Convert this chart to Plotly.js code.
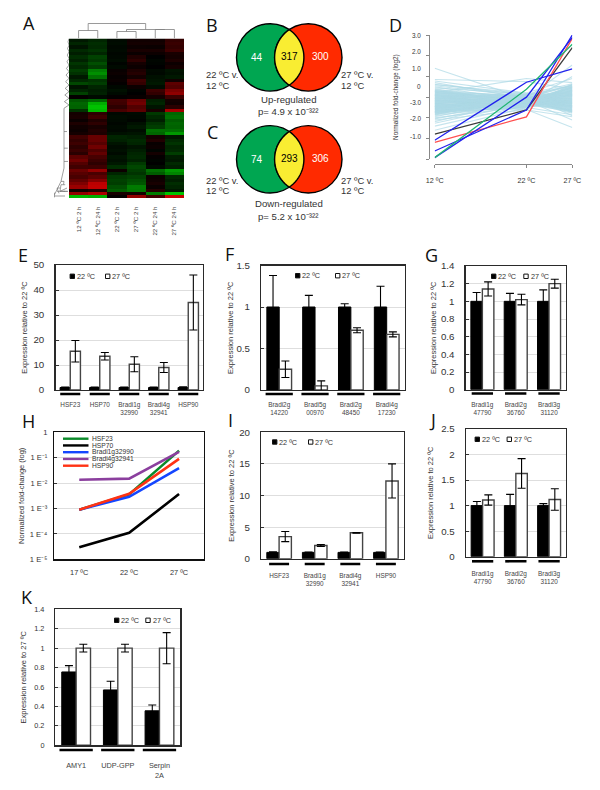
<!DOCTYPE html>
<html><head><meta charset="utf-8">
<script src="https://cdn.plot.ly/plotly-3.0.1.min.js"></script>
<style>html,body{margin:0;padding:0;background:#fff}</style></head>
<body><div id="chart" style="width:600px;height:790px"></div>
<script>
// ---------- data: panel A heat map (rows top to bottom, six samples) ----------
const heatSamples = ['12 ºC 2 h','12 ºC 24 h','22 ºC 2 h','27 ºC 2 h','22 ºC 24 h','27 ºC 24 h'];
const heatRows = [
[-.12,-.18,-.05,.08,.08,.25],[-.18,-.22,-.06,.1,.1,.28],[-.1,-.2,-.04,.06,.05,.25],[-.2,-.25,-.05,.12,.12,.3],[-.14,-.18,-.03,.05,.06,.12],
[-.22,-.32,-.04,.15,0,.1],[-.16,-.28,-.06,.22,-.03,.14],[-.26,-.38,-.02,.1,-.02,.06],[-.2,-.3,-.05,.06,0,.1],
[-.3,-.62,.04,.14,-.05,-.1],[-.24,-.7,.06,.18,-.04,-.08],[-.12,-.55,.03,.1,-.08,-.12],
[-.2,-.25,.05,.3,-.1,.08],[-.35,-.3,.02,.25,-.12,.45],[-.1,-.18,-.04,.06,-.06,.4],
[-.18,-.14,-.08,-.02,.3,.62],[-.32,-.16,-.05,0,.24,.7],[.02,-.05,.02,.04,.1,.3],
[-.42,-.5,.32,.5,-.15,.1],[-.5,-.85,.3,.55,-.18,.08],[-.48,-.95,.22,.4,-.1,.2],[-.25,-.9,.35,.45,.12,.8],
[.1,.22,-.04,-.05,-.28,-.5],[.12,.3,-.06,-.04,-.2,-.55],[.05,.15,-.05,-.02,-.15,-.45],[.14,.22,-.03,-.08,-.25,-.5],[.08,.12,-.05,-.12,-.3,-.48],[.06,.16,-.04,-.06,-.55,-.55],[.1,.14,-.08,-.1,-.5,-.75],
[.32,.5,-.18,-.15,.1,-.12],[.25,.5,-.16,-.2,.16,-.2],[.3,.42,-.1,-.18,.04,-.25],[.22,.55,-.06,-.1,.06,-.18],[.28,.38,-.08,-.14,-.02,-.2],[.2,.48,-.05,-.18,.1,-.3],
[.45,.35,-.1,-.2,.02,-.14],[.55,.28,-.08,-.16,-.02,-.12],[.4,.22,-.12,-.28,0,-.2],[.32,.3,-.22,-.35,-.05,-.15],
[.52,.72,.06,-.3,-.55,-.75],[.42,.36,-.18,-.25,-.45,-.65],[.36,.45,-.28,-.32,.06,-.2],[.48,.65,-.32,-.38,.08,-.15],
[.62,.92,-.3,-.42,.12,-.22],[.75,.95,-.38,-.6,.05,-.18],[.08,.15,-.45,-.58,.18,-.12],
[.72,.85,.12,.1,-.62,-.95],[-.9,-.85,.02,.72,.32,.95]];
const dendroTopX = [0,0,1,1,null,2,2,3,3,null,4,4,5,5,null,2.5,2.5,4.5,4.5,null,.5,.5,3.5,3.5];
const dendroTopH = [0,8,8,0,null,0,7,7,0,null,0,9,9,0,null,7,9,9,9,null,8,15,15,9];
const dendroLeftD = [0,1,0,1.4,0,1.7,0,2,0,2.5,0,3,0,3.4,0,3.8,0,4.2,0,4.6,0,5,null,5,5,null,5,2,null,5,1.2,null,5,1,null,5,8,null,8,5,5.5,3.8,null,5.5,1.5,null,8,14.5,null,5.5,8,9,2,null,9,1,null,14.5,14.5,null,9,12,10,null,12,4,null,14.5,4];
const dendroLeftR = [0,1,2,3,4,5,6,7,8,9,10,11,12,13,14,15,16,17,18,19,20,21,null,21,39,null,28,28,null,33,33,null,37,37,null,39,43,null,43,43,44,44,null,46,46,null,43,47,null,44,44,46,45,null,46,46,null,46.4,47.8,null,45,45,46.6,null,46,46,null,47.4,47.4];

// ---------- data: panels B, C Venn counts ----------
const vennUp = [44, 317, 300];
const vennDown = [74, 293, 306];

// ---------- data: panel D ----------
const dTemps = [12, 22, 27];
const dTickLabels = ['3.0','2.0','1.0','0','-3.0','-2.0','-1.0'];
const coolAt12 = [1.4,.85,.78,.7,.62,.55,.5,.45,.4,.36,.3,.27,.22,.18,.14,.1,.08,.05,.02,-.02,-.05,-.08,-.1,-.13,-.16,-.18,-.2,-.23,-.26,-.28,-.3,-.33,-.36,-.38,-.4,-.43,-.46,-.48,-.5,-.53,-.56,-.58,-.6,-.63,-.66,-.68,-.7,-.73,-.76,-.78,-.82,-.86,-.9,-.95,-1,-1.05,-1.1,-1.18,-1.26,-1.4,-1.6,.2,-.3,.6,-.15,.32,-.55,-.72,.12,-.42,
 .28,.16,.06,-.04,-.12,-.22,-.32,-.44,-.52,-.64,-.74,.24,.1,-.01,-.09,-.19,-.29,-.37,-.47,-.57,-.69,-.8,.34,.2,.03,-.07,-.17,-.27,-.39,-.49,-.61,-.71,-.84,.26,.11,-.06,-.21,-.34,-.45,-.59];
const coolAt22 = [-.1,.75,.2,-.05,.1,.02,-.2,.15,-.3,0,.05,-.15,-.1,.12,-.25,.08,-.4,-.05,.1,-.18,-.3,.06,-.12,-.45,-.22,.02,-.08,-.35,-.02,-.28,-.16,.14,-.5,-.1,-.04,-.32,-.2,.05,-.42,-.14,-.26,-.06,-.55,.03,-.38,-.12,-.24,-.48,-.02,-.3,-.18,.1,-.34,-.08,-.44,-.22,-.6,-.1,-.3,-.4,-.5,.9,-.62,.18,-.36,-.2,-.46,-.52,-.28,-.16,
 -.22,-.06,-.34,.04,-.14,-.26,-.02,-.42,-.1,-.3,-.18,-.38,.01,-.24,-.12,-.46,-.08,-.2,-.32,-.04,-.28,-.16,-.36,-.1,-.44,.08,-.22,-.13,-.27,-.05,-.33,-.19,-.4,.02,-.15,-.29,-.07,-.35,-.11,-.25];
const coolAt27 = [-.3,.4,.9,1.55,.55,.1,-.2,.65,-.4,.3,-.1,.45,-.55,.2,1,-.3,.05,.6,-.7,-.15,.35,-.45,.12,-.05,.5,-.25,-.6,.25,-.35,.02,.42,-.5,.15,-.72,-.08,.32,-.42,.58,-.2,-.65,.08,-.3,.22,-.52,-.12,.38,-.78,0,-.38,.48,-.22,-.9,.18,-.48,.62,-.05,-1.47,.28,-.6,-.28,-.85,.7,-.95,.05,-.68,.52,-.16,.35,-.42,-1.1,
 .44,-.34,.14,-.58,.26,-.18,.54,-.44,.06,-.62,.34,-.26,.2,-.7,.46,-.1,-.52,.3,-.02,-.4,.16,-.66,.4,-.22,.1,-.48,.24,-.74,.5,-.14,.36,-.56,-.06,.12,-.36,.28,-.46,.18,-.64,.04];
const dHighlights = [
  {color:'#3b3b3b', values:[-1.79,-.62,2.39]},
  {color:'#ff4f4f', values:[-2.18,-.95,2.84]},
  {color:'#2222ee', values:[-2.08,.72,1.36]},
  {color:'#2222ee', values:[-2.6,-.62,3.0]},
  {color:'#2222ee', values:[-2.92,0,2.89]},
  {color:'#22b573', values:[-2.92,.38,2.55]}];

// ---------- data: bar panels ----------
const eCats = ['HSF23','HSP70','Bradi1g<br>32990','Bradi4g<br>32941','HSP90'];
const eBlack = [1,1,1,1,1];
const eBlackErr = [.2,.2,.2,.2,.3];
const eWhite = [15.5,13.5,10.3,9,35];
const eWhiteErr = [4.3,1.5,3,2,11];

const fCats = ['Bradi2g<br>14220','Bradi5g<br>00970','Bradi2g<br>48450','Bradi4g<br>17230'];
const fBlack = [1,1,1,1];
const fBlackErr = [.38,.14,.04,.25];
const fWhite = [.25,.05,.72,.67];
const fWhiteErr = [.1,.06,.03,.03];

const gCats = ['Bradi1g<br>47790','Bradi2g<br>36760','Bradi3g<br>31120'];
const gBlack = [1,1,1];
const gBlackErr = [.1,.09,.13];
const gWhite = [1.14,1.02,1.2];
const gWhiteErr = [.08,.06,.05];

const hTemps = ['17 ºC','22 ºC','27 ºC'];
const hTickVals = [1e-5,1e-4,1e-3,1e-2,1e-1,1];
const hTickText = ['1 E⁻⁵','1 E⁻⁴','1 E⁻³','1 E⁻²','1 E⁻¹','1'];
const hSeries = [
  {name:'HSF23', color:'#0b8a2a', values:[9e-4,3.6e-3,1.9e-1]},
  {name:'HSP70', color:'#000000', values:[3e-5,1.1e-4,3.7e-3]},
  {name:'Bradi1g32990', color:'#1446ff', values:[9e-4,2.9e-3,3.9e-2]},
  {name:'Bradi4g32941', color:'#8b3f9e', values:[1.35e-2,1.5e-2,1.7e-1]},
  {name:'HSP90', color:'#ff3214', values:[9e-4,3.8e-3,9e-2]}];

const iCats = ['HSF23','Bradi1g<br>32990','Bradi4g<br>32941','HSP90'];
const iBlack = [1,1,1,1];
const iBlackErr = [.08,.06,.06,.06];
const iWhite = [3.5,2.1,4.1,12.3];
const iWhiteErr = [.8,.15,.05,2.7];

const jCats = ['Bradi1g<br>47790','Bradi2g<br>36760','Bradi3g<br>31120'];
const jBlack = [1,1,1];
const jBlackErr = [.08,.22,.04];
const jWhite = [1.11,1.63,1.12];
const jWhiteErr = [.1,.29,.21];

const kCats = ['AMY1','UDP-GPP','Serpin<br>2A'];
const kBlack = [.755,.57,.355];
const kBlackErr = [.065,.09,.06];
const kWhite = [1,1,1];
const kWhiteErr = [.04,.04,.16];

// ---------- helpers ----------
const W = 600, H = 790;
const X = p => p / W, Y = p => 1 - p / H;
const SANS = '"Liberation Sans", Arial, sans-serif';
const INK = '#333';
const traces = [], shapes = [], annotations = [];
const layout = {width:W, height:H, margin:{l:0,r:0,t:0,b:0}, paper_bgcolor:'#fff', plot_bgcolor:'rgba(0,0,0,0)',
  showlegend:false, font:{family:SANS, color:INK}, shapes, annotations};
let axisN = 0;
function axes(l, r, t, b, xa, ya) {
  axisN++;
  const sfx = axisN === 1 ? '' : String(axisN);
  layout['xaxis'+sfx] = Object.assign({domain:[X(l),X(r)], anchor:'y'+sfx, fixedrange:true}, xa);
  layout['yaxis'+sfx] = Object.assign({domain:[Y(b),Y(t)], anchor:'x'+sfx, fixedrange:true}, ya);
  return {x:'x'+sfx, y:'y'+sfx};
}
function text(x, y, str, size, opts) {
  annotations.push(Object.assign({xref:'paper', yref:'paper', x:X(x), y:Y(y), text:str, showarrow:false,
    font:{size, family:SANS, color:INK}, xanchor:'center', yanchor:'middle', borderpad:0, align:'center'}, opts||{}));
}
function letter(s, x, y) { text(x, y, s, 18, {font:{size:18, family:'"Open Sans", sans-serif', color:'#111'}}); }
function legendSquare(x, y, fill) {
  shapes.push({type:'rect', xref:'paper', yref:'paper', x0:X(x-2.2), x1:X(x+2.2), y0:Y(y+2.2), y1:Y(y-2.2),
    fillcolor:fill, line:{color:'#111', width:1}});
}
function barPanel(p) {
  const a = axes(p.l, p.r, p.t, p.b,
    {type:'category', showline:true, mirror:true, linecolor:'#2a2a2a', linewidth:1.4, showgrid:false, ticks:'outside',
     ticklen:p.labelGap, tickcolor:'rgba(0,0,0,0)', tickangle:0, tickfont:{size:p.catFont||6.4, color:'#444'}},
    {range:[0,p.ymax], tick0:0, dtick:p.dtick, showline:true, mirror:true, linecolor:'#2a2a2a', linewidth:1.4, showgrid:true,
     gridcolor:'#dedede', gridwidth:1, ticks:'inside', ticklen:3, tickcolor:'#333', ticklabelstandoff:p.tickGap,
     tickfont:{size:p.tickFont||9.7, color:INK}, zeroline:false,
     title:{text:p.ytitle, font:{size:7.5, color:INK}, standoff:p.titleGap}});
  layout[a.x.replace('x','xaxis')].categoryorder = 'array';
  layout[a.x.replace('x','xaxis')].categoryarray = p.cats;
  const errStyle = {type:'data', visible:true, color:'#000', thickness:1.1, width:p.capW||4};
  traces.push({type:'bar', name:'22 ºC', x:p.cats, y:p.black, xaxis:a.x, yaxis:a.y, marker:{color:'#000', line:{color:'#000',width:1}},
    error_y:Object.assign({array:p.blackErr}, errStyle)});
  traces.push({type:'bar', name:'27 ºC', x:p.cats, y:p.white, xaxis:a.x, yaxis:a.y, marker:{color:'#fff', line:{color:'#444',width:1.4}},
    error_y:Object.assign({array:p.whiteErr}, errStyle)});
  p.cats.forEach((c, i) => shapes.push({type:'line', xref:a.x, yref:'paper', x0:i-p.under, x1:i+p.under,
    y0:Y(p.underY), y1:Y(p.underY), line:{color:'#000', width:2.6}}));
  legendSquare(p.leg[0], p.leg[2], '#000'); text(p.leg[0]+3.6, p.leg[2], '22 ºC', 7.3, {xanchor:'left'});
  legendSquare(p.leg[1], p.leg[2], '#fff'); text(p.leg[1]+3.6, p.leg[2], '27 ºC', 7.3, {xanchor:'left'});
}

// ---------- panel A ----------
const ha = axes(69, 184, 38.5, 198,
  {type:'category', showline:false, showgrid:false, ticks:'outside', ticklen:5, tickcolor:'rgba(0,0,0,0)', tickangle:-90,
   tickfont:{size:6.2, color:'#444'}, zeroline:false},
  {autorange:'reversed', showticklabels:false, showgrid:false, zeroline:false, ticks:''});
traces.push({type:'heatmap', x:heatSamples, z:heatRows, xaxis:ha.x, yaxis:ha.y, zmin:-1.25, zmax:1.25, showscale:false, hoverinfo:'skip',
  colorscale:[[0,'#00ff00'],[.5,'#000000'],[1,'#ff0000']]});
const dt = axes(69, 184, 22.5, 38.5,
  {range:[-.5,5.5], visible:false}, {range:[0,16], visible:false});
traces.push({type:'scatter', mode:'lines', x:dendroTopX, y:dendroTopH, xaxis:dt.x, yaxis:dt.y, hoverinfo:'skip', line:{color:'#808080', width:.8}});
const dl = axes(53, 69, 38.5, 198,
  {range:[16,0], visible:false}, {range:[48,0], visible:false});
traces.push({type:'scatter', mode:'lines', x:dendroLeftD, y:dendroLeftR, xaxis:dl.x, yaxis:dl.y, hoverinfo:'skip', line:{color:'#777', width:.7}});

// ---------- panels B, C ----------
function venn(cy, counts, r) {
  const c1 = 270.2, c2 = 308.3;
  shapes.push({type:'circle', xref:'paper', yref:'paper', x0:X(c1-r), x1:X(c1+r), y0:Y(cy+r), y1:Y(cy-r), fillcolor:'#00a651', line:{color:'#000',width:1.4}});
  shapes.push({type:'circle', xref:'paper', yref:'paper', x0:X(c2-r), x1:X(c2+r), y0:Y(cy+r), y1:Y(cy-r), fillcolor:'#ff2a00', line:{color:'#000',width:1.4}});
  const half = Math.acos((c2-c1)/2/r), seg = [];
  for (let i = 0; i <= 24; i++) { const t = -half + 2*half*i/24; seg.push([c1 + r*Math.cos(t), cy + r*Math.sin(t)]); }
  for (let i = 0; i <= 24; i++) { const t = Math.PI - half + 2*half*i/24; seg.push([c2 + r*Math.cos(t), cy + r*Math.sin(t)]); }
  const path = seg.map((q,i) => (i?'L':'M') + X(q[0]).toFixed(5) + ',' + Y(q[1]).toFixed(5)).join(' ') + ' Z';
  shapes.push({type:'path', xref:'paper', yref:'paper', path, fillcolor:'#f9ed32', line:{color:'#000',width:1.4}});
  text(257, cy, String(counts[0]), 10, {font:{size:10, family:SANS, color:'#fff'}});
  text(289, cy-.5, String(counts[1]), 10, {font:{size:10, family:SANS, color:'#000'}});
  text(320.5, cy-.5, String(counts[2]), 10, {font:{size:10, family:SANS, color:'#fff'}});
}
venn(57.4, vennUp, 33.7);
venn(159.3, vennDown, 33.7);
[[74,85.3],[180,191]].forEach(ys => {
  text(204.7, ys[0], '22 ºC v.', 9.4, {xanchor:'left'}); text(204.7, ys[1], '12 ºC', 9.4, {xanchor:'left'});
  text(340.3, ys[0], '27 ºC v.', 9.4, {xanchor:'left'}); text(340.3, ys[1], '12 ºC', 9.4, {xanchor:'left'});
});
text(288, 99.3, 'Up-regulated', 9.6);
text(288.3, 112, 'p= 4.9 x 10⁻³²²', 9.6);
text(289, 203.3, 'Down-regulated', 9.6);
text(288, 216, 'p= 5.2 x 10⁻³²²', 9.6);

// ---------- panel D ----------
const da = axes(434.7, 572.3, 35, 159.3,
  {range:[12,27], tickvals:dTemps, ticktext:dTemps.map(t => t+' ºC'), anchor:'free', position:Y(164.3), showline:true, linecolor:'#888', linewidth:1,
   ticks:'outside', ticklen:3, tickcolor:'#888', showgrid:false, zeroline:false, tickfont:{size:7.2, color:INK}, ticklabelstandoff:6},
  {range:[-3,3], tickvals:[-3,-2,-1,0,1,2,3], anchor:'free', position:X(429.3), showline:true, linecolor:'#888', linewidth:1,
   ticks:'outside', ticklen:3, tickcolor:'#888', showgrid:false, zeroline:false, showticklabels:false,
   title:{text:'Normalized fold-change (log2)', font:{size:6.4, color:INK}, standoff:26}});
const coolX = [], coolY = [];
coolAt12.forEach((v, i) => { coolX.push(dTemps[0],dTemps[1],dTemps[2],null); coolY.push(v,coolAt22[i],coolAt27[i],null); });
traces.push({type:'scatter', mode:'lines', x:coolX, y:coolY, xaxis:da.x, yaxis:da.y, hoverinfo:'skip', line:{color:'rgba(173,216,230,.7)', width:1.1}});
dHighlights.forEach(s => traces.push({type:'scatter', mode:'lines', x:dTemps, y:s.values, xaxis:da.x, yaxis:da.y, hoverinfo:'skip', line:{color:s.color, width:1.3}}));
[35,51.7,68.3,86,102.3,118.3,136.7].forEach((py,i) => text(422, py, dTickLabels[i], 6.4, {xanchor:'right'}));

// ---------- bar panels ----------
barPanel({l:55.5,r:203,t:265,b:390, cats:eCats, black:eBlack, blackErr:eBlackErr, white:eWhite, whiteErr:eWhiteErr, ymax:50, dtick:10,
  ytitle:'Expression relative to 22 ºC', titleGap:4, tickGap:8, labelGap:8, under:.34, underY:394, leg:[72.3,107.7,276.3]});
barPanel({l:261.3,r:404.6,t:265.5,b:390, cats:fCats, black:fBlack, blackErr:fBlackErr, white:fWhite, whiteErr:fWhiteErr, ymax:1.5, dtick:.5,
  ytitle:'Expression relative to 22 ºC', titleGap:2, tickGap:8, labelGap:8, under:.38, underY:394, leg:[297.7,337.7,275.7]});
barPanel({l:465.7,r:565.7,t:266,b:389.7, cats:gCats, black:gBlack, blackErr:gBlackErr, white:gWhite, whiteErr:gWhiteErr, ymax:1.4, dtick:.2,
  ytitle:'Expression relative to 22 ºC', titleGap:3, tickGap:8, labelGap:8, under:.32, underY:393.5, leg:[493.7,526,276.3]});
barPanel({l:261.3,r:403.7,t:432.3,b:558.7, cats:iCats, black:iBlack, blackErr:iBlackErr, white:iWhite, whiteErr:iWhiteErr, ymax:20, dtick:5,
  ytitle:'Expression relative to 22 ºC', titleGap:3, tickGap:8, labelGap:10, under:.28, underY:564, leg:[274.7,310.7,442]});
barPanel({l:466,r:565.7,t:429,b:556.7, cats:jCats, black:jBlack, blackErr:jBlackErr, white:jWhite, whiteErr:jWhiteErr, ymax:2.5, dtick:.5,
  ytitle:'Expression relative to 22 ºC', titleGap:6, tickGap:8, labelGap:10, under:.32, underY:561.3, leg:[477.3,509.3,439.3]});
barPanel({l:55.3,r:180.3,t:609.3,b:745.3, cats:kCats, black:kBlack, blackErr:kBlackErr, white:kWhite, whiteErr:kWhiteErr, ymax:1.4, dtick:.2,
  ytitle:'Expression relative to 27 ºC', titleGap:6, tickGap:8, labelGap:13, under:.4, underY:750, leg:[116.7,148,620.3],
  tickFont:7.3, catFont:7.3});

// ---------- panel H ----------
const hAxes = axes(54.3, 204, 432.3, 559.3,
  {type:'category', range:[-.5,2.5], showline:true, mirror:true, linecolor:'#111', linewidth:1.4, showgrid:false, ticks:'outside', ticklen:5, tickcolor:'rgba(0,0,0,0)',
   tickfont:{size:7.4, color:INK}, tickangle:0},
  {type:'log', range:[-5,0], tickvals:hTickVals, ticktext:hTickText, showline:true, mirror:true, linecolor:'#111', linewidth:1.4,
   gridcolor:'#dedede', gridwidth:1, ticks:'inside', ticklen:3, tickcolor:'#333', tickfont:{size:7.6, color:INK}, ticklabelstandoff:4, zeroline:false,
   title:{text:'Normalized fold-change (log)', font:{size:7.5, color:INK}, standoff:4}});
hSeries.forEach((s, i) => {
  traces.push({type:'scatter', mode:'lines', name:s.name, x:hTemps, y:s.values, xaxis:hAxes.x, yaxis:hAxes.y, hoverinfo:'skip', line:{color:s.color, width:2.6}});
  const py = 438.7 + i*6.75;
  shapes.push({type:'line', xref:'paper', yref:'paper', x0:X(63), x1:X(88.5), y0:Y(py), y1:Y(py), line:{color:s.color, width:2.4}});
  text(90.7, py, s.name, 6.7, {xanchor:'left'});
});

// ---------- panel letters ----------
letter('A',29,22.7); letter('B',212.3,25); letter('C',212.3,131.7); letter('D',395,25);
letter('E',22.7,255); letter('F',229,254.3); letter('G',431.7,255);
letter('H',28.3,420.7); letter('I',230.3,420); letter('J',432.3,420); letter('K',27.3,597.3);

layout.barmode = 'group';
layout.bargap = .31;
layout.bargroupgap = 0;

Plotly.newPlot('chart', traces, layout, {displayModeBar:false, staticPlot:true});
</script></body></html>
